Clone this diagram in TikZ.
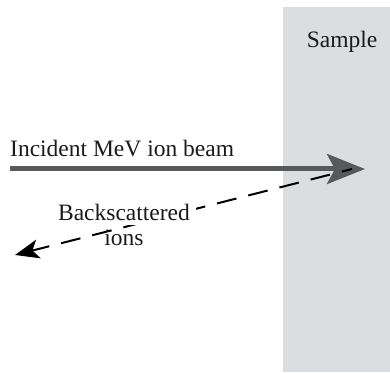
\documentclass[tikz,border=0pt]{standalone}
\usepackage{fontspec}
\setmainfont{Liberation Serif}
\usetikzlibrary{positioning,arrows.meta}
\definecolor{SampleGrey}{HTML}{DCDDDF}
\definecolor{BeamGrey}{HTML}{58595B}
\definecolor{Ink}{HTML}{1A1A1A}

\begin{document}
\begin{tikzpicture}[x=1pt,y=1pt,
    lbl/.style={font=\fontsize{23.5}{24}\selectfont,inner sep=0pt,text=Ink}]
  \useasboundingbox (0,0) rectangle (390,372);
  % the sample slab
  \node[fill=SampleGrey,inner sep=0pt,minimum width=107pt,
        minimum height=365pt,anchor=south west] (sample) at (283,0) {};
  \node[lbl,anchor=base] (samplelab) at (342,324) {Sample};
  % incident beam
  \coordinate (src) at (10,203);
  \coordinate (hit) at (365,203);
  \draw[BeamGrey,line width=5pt,
        -{Stealth[length=38pt,width=30pt,inset=8pt]}] (src) -- (hit);
  \node[lbl,anchor=base west] (beamlab) at (10,215)
        {Incident MeV ion beam};
  % backscattered ions
  \coordinate (back) at (352,203);
  \coordinate (det) at (15,117);
  \draw[black,line width=2pt,dash pattern=on 20pt off 12.2pt,dash phase=9.5pt,
        -{Stealth[length=24pt,width=19pt,inset=6pt]}] (back) -- (det);
  \node[lbl,anchor=base,fill=white,inner xsep=6pt,inner ysep=4pt]
        (backlab) at (124,151) {Backscattered};
  \node[lbl,anchor=base] (ionslab) at (124,127) {ions};
\end{tikzpicture}
\end{document}
